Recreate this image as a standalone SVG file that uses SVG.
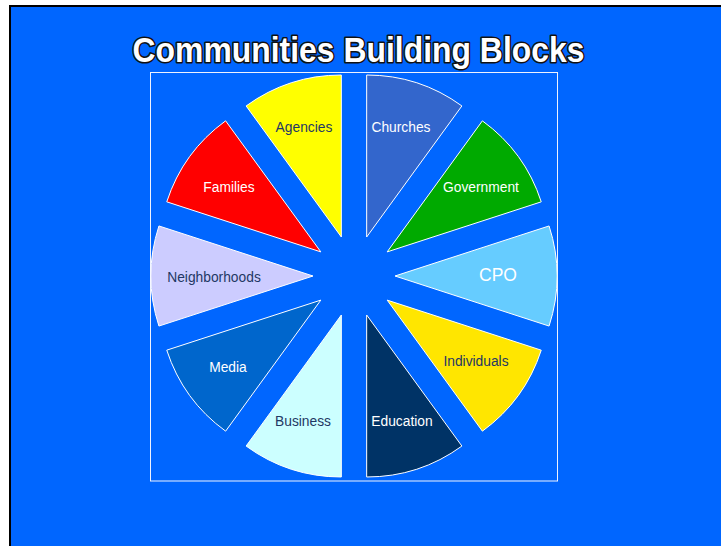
<svg xmlns="http://www.w3.org/2000/svg" width="721" height="546" viewBox="0 0 721 546">
  <style>
    .slice { stroke: #ffffff; stroke-width: 1; stroke-linejoin: miter; }
    .lbl { font-family: "Liberation Sans", Arial, sans-serif; font-size: 13.8px; text-anchor: middle; }
    .light { fill: #ffffff; }
    .dark { fill: #1f3864; }
    .title { font-family: "Liberation Sans", Arial, sans-serif; font-weight: bold; font-size: 35px; fill: #ffffff; stroke: #111111; stroke-width: 3.2; paint-order: stroke; stroke-linejoin: round; text-anchor: middle; }
  </style>

  <!-- page and slide frame -->
  <rect x="0" y="0" width="721" height="546" fill="#ffffff"/>
  <rect x="10" y="6" width="720" height="550" fill="#0066ff" stroke="#000000" stroke-width="2"/>

  <text class="title" x="358.5" y="62" textLength="452" lengthAdjust="spacingAndGlyphs">Communities Building Blocks</text>

  <!-- chart frame -->
  <rect x="150.5" y="72.5" width="407" height="408.5" fill="none" stroke="#eef2ff" stroke-width="1"/>

  <!-- exploded pie: ten 36-degree blocks, radius 162, pulled out 41px from (354,276) -->
  <g id="cpo">
    <path class="slice" fill="#66ccff" d="M395,276 L549.07,326.06 A162,162 0 0 0 549.07,225.94 Z"/>
    <text class="lbl light" x="498" y="281" style="font-size:17.5px">CPO</text>
  </g>
  <g id="government">
    <path class="slice" fill="#00aa00" d="M387.17,251.9 L541.24,201.84 A162,162 0 0 0 482.39,120.84 Z"/>
    <text class="lbl light" x="481" y="192">Government</text>
  </g>
  <g id="churches">
    <path class="slice" fill="#3366cc" d="M366.67,237.01 L461.89,105.95 A162,162 0 0 0 366.67,75.01 Z"/>
    <text class="lbl light" x="401" y="132">Churches</text>
  </g>
  <g id="agencies">
    <path class="slice" fill="#ffff00" d="M341.33,237.01 L341.33,75.01 A162,162 0 0 0 246.11,105.95 Z"/>
    <text class="lbl dark" x="304" y="132">Agencies</text>
  </g>
  <g id="families">
    <path class="slice" fill="#ff0000" d="M320.83,251.9 L225.61,120.84 A162,162 0 0 0 166.76,201.84 Z"/>
    <text class="lbl light" x="229" y="192">Families</text>
  </g>
  <g id="neighborhoods">
    <path class="slice" fill="#ccccff" d="M313,276 L158.93,225.94 A162,162 0 0 0 158.93,326.06 Z"/>
    <text class="lbl dark" x="214" y="282">Neighborhoods</text>
  </g>
  <g id="media">
    <path class="slice" fill="#0066cc" d="M320.83,300.1 L166.76,350.16 A162,162 0 0 0 225.61,431.16 Z"/>
    <text class="lbl light" x="228" y="372">Media</text>
  </g>
  <g id="business">
    <path class="slice" fill="#ccffff" d="M341.33,314.99 L246.11,446.05 A162,162 0 0 0 341.33,476.99 Z"/>
    <text class="lbl dark" x="303" y="426">Business</text>
  </g>
  <g id="education">
    <path class="slice" fill="#003366" d="M366.67,314.99 L366.67,476.99 A162,162 0 0 0 461.89,446.05 Z"/>
    <text class="lbl light" x="402" y="426">Education</text>
  </g>
  <g id="individuals">
    <path class="slice" fill="#ffe600" d="M387.17,300.1 L482.39,431.16 A162,162 0 0 0 541.24,350.16 Z"/>
    <text class="lbl dark" x="476" y="366">Individuals</text>
  </g>

  <!-- no connectors in this chart -->
  <g id="connectors"/>
</svg>
